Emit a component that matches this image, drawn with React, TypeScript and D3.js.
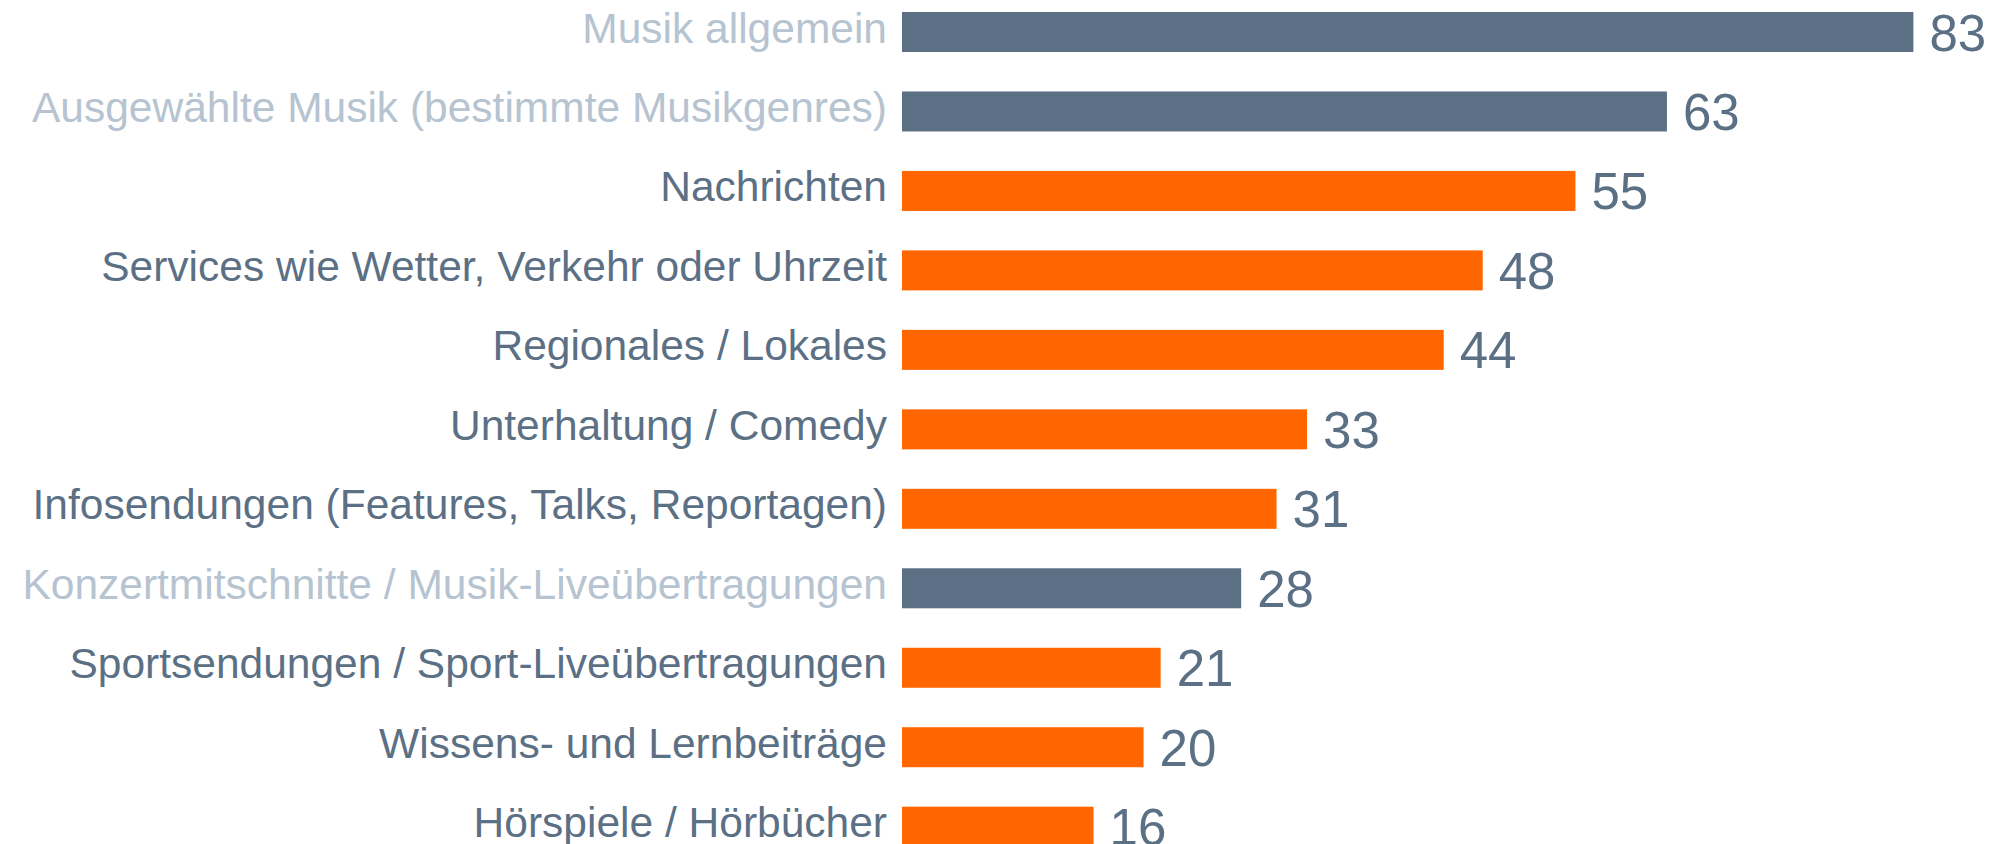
import React from "react";
import * as d3 from "d3";

const categories = [
  "Musik allgemein",
  "Ausgewählte Musik (bestimmte Musikgenres)",
  "Nachrichten",
  "Services wie Wetter, Verkehr oder Uhrzeit",
  "Regionales / Lokales",
  "Unterhaltung / Comedy",
  "Infosendungen (Features, Talks, Reportagen)",
  "Konzertmitschnitte / Musik-Liveübertragungen",
  "Sportsendungen / Sport-Liveübertragungen",
  "Wissens- und Lernbeiträge",
  "Hörspiele / Hörbücher",
];
const values = [82.9, 62.7, 55.2, 47.6, 44.4, 33.2, 30.7, 27.8, 21.2, 19.8, 15.7];
const valueLabels = ["83", "63", "55", "48", "44", "33", "31", "28", "21", "20", "16"];
const musicGroup = [true, true, false, false, false, false, false, true, false, false, false];

const W = 1995;
const H = 844;
const FONT = "'Liberation Sans', Arial, Helvetica, sans-serif";
const STEP = 79.47;
const PAD = 1 - 40 / STEP;

export default function App() {
  const x = d3.scaleLinear().domain([0, 100]).range([902, 2122]);
  const start = 12 - STEP * (PAD / 2);
  const y = d3
    .scaleBand<string>()
    .domain(categories)
    .range([start, start + STEP * categories.length])
    .paddingInner(PAD)
    .paddingOuter(PAD / 2);
  const bh = y.bandwidth();

  return (
    <svg
      width={W}
      height={H}
      style={{ position: "absolute", left: 0, top: 0, background: "#fff" }}
    >
      {categories.map((c, i) => {
        const top = y(c) ?? 0;
        const cy = top + bh / 2;
        const music = musicGroup[i];
        return (
          <g key={c}>
            <rect
              x={x(0)}
              y={top}
              width={x(values[i]) - x(0)}
              height={bh}
              fill={music ? "#5b7085" : "#ff6600"}
            />
            <text
              x={887}
              y={cy + 10.5}
              textAnchor="end"
              fontFamily={FONT}
              fontSize={42.5}
              fill={music ? "#b6c3d0" : "#5b7085"}
            >
              {c}
            </text>
            <text
              x={x(values[i]) + 16}
              y={cy + 18.5}
              fontFamily={FONT}
              fontSize={51}
              fill="#5b7085"
            >
              {valueLabels[i]}
            </text>
          </g>
        );
      })}
    </svg>
  );
}
